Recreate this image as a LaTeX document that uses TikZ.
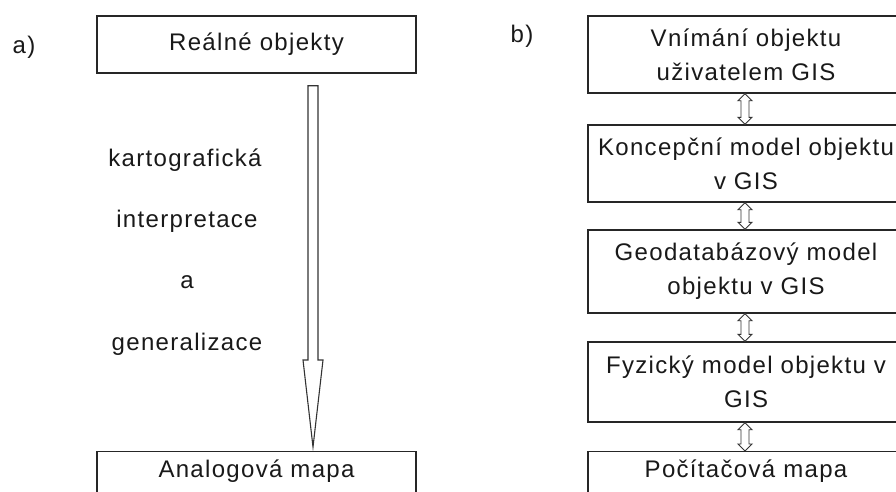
\documentclass[tikz,border=0pt]{standalone}
\usepackage{fontspec}
\setmainfont{Liberation Sans}[LetterSpace=5.5]
\usetikzlibrary{calc}
\begin{document}
\begin{tikzpicture}[x=1pt,y=-1pt,
  lbl/.style={inner sep=0pt, font=\fontsize{24}{34}\selectfont, text=black!90},
  box/.style={draw=black!85, line width=1.4pt, rectangle, inner sep=0pt, align=center,
    font=\fontsize{24}{34}\selectfont, text=black!90},
  cutbox/.style={box, anchor=north, text height=26pt, text depth=60pt},
  hollow/.style={draw=black!80, line width=1.1pt, fill=white, line join=miter}]
\useasboundingbox (0,0) rectangle (896,491);
\clip (0,0) rectangle (896,491);
\fill[white] (0,0) rectangle (896,491);

% ---------- a) ----------
\node[lbl] (la) at (24,47) {a)};
\node[box, minimum width=319pt, minimum height=57pt] (ro) at (256.5,44.5) {Reálné objekty};
\node[cutbox, minimum width=319pt] (am) at (256.5,451) {Analogová mapa};

\coordinate (atop) at ($(ro.south)+(56.5,12)$);
\coordinate (atip) at ($(am.north)+(56.5,-4)$);
\draw[hollow] ($(atop)+(-5,0)$) -- ($(atip)+(-5,-87)$) -- ($(atip)+(-10,-87)$) -- (atip)
  -- ($(atip)+(10,-87)$) -- ($(atip)+(5,-87)$) -- ($(atop)+(5,0)$) -- cycle;

\node[lbl] (t1) at (185,160) {kartografická};
\node[lbl] (t2) at (187,221) {interpretace};
\node[lbl] (t3) at (187,282) {a};
\node[lbl] (t4) at (187,344) {generalizace};

% ---------- b) ----------
\node[lbl] (lb) at (522,36) {b)};
\node[box, minimum width=316pt, minimum height=77pt] (b1) at (746,54.5) {Vnímání objektu\\uživatelem GIS};
\node[box, minimum width=316pt, minimum height=77pt] (b2) at (746,163.5) {Koncepční model objektu\\v GIS};
\node[box, minimum width=316pt, minimum height=83pt] (b3) at (746,271.5) {Geodatabázový model\\objektu v GIS};
\node[box, minimum width=316pt, minimum height=80pt] (b4) at (746,382) {Fyzický model objektu v\\GIS};
\node[cutbox, minimum width=316pt] (b5) at (746,451) {Počítačová mapa};

\newcommand{\dblarr}[2]{%
  \draw[hollow, line width=0.9pt] ($(#1.south)+(-1,0)$) -- ($(#1.south)+(-8,7)$) -- ($(#1.south)+(-5,7)$)
    -- ($(#2.north)+(-5,-7)$) -- ($(#2.north)+(-8,-7)$) -- ($(#2.north)+(-1,0)$)
    -- ($(#2.north)+(6,-7)$) -- ($(#2.north)+(3,-7)$) -- ($(#1.south)+(3,7)$)
    -- ($(#1.south)+(6,7)$) -- cycle;}
\dblarr{b1}{b2}
\dblarr{b2}{b3}
\dblarr{b3}{b4}
\dblarr{b4}{b5}
\end{tikzpicture}
\end{document}
